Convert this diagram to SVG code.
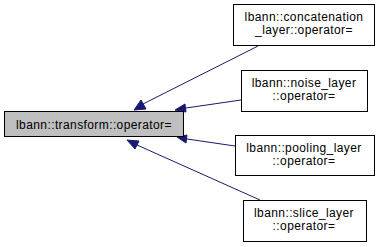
<svg xmlns="http://www.w3.org/2000/svg" width="381" height="247" viewBox="0 0 381 247">
  <style>
    .box { fill: #ffffff; stroke: #000000; stroke-width: 1; }
    .cur { fill: #bfbfbf; stroke: #000000; stroke-width: 1; }
    .lbl { font-family: "Liberation Sans", Arial, sans-serif; font-size: 12px; letter-spacing: 0.4px; fill: #000000; text-anchor: middle; }
    .edge { fill: none; stroke: #191970; stroke-width: 1; }
    .head { fill: #191970; stroke: #191970; stroke-width: 1; }
  </style>
  <rect width="381" height="247" fill="#ffffff"/>

  <g id="edges">
    <path class="edge" d="M258,46 L143,104"/>
    <polygon class="head" points="141,100 134,110 146,109"/>
    <path class="edge" d="M241,100 L186,108"/>
    <polygon class="head" points="185,104 175,110 186,112"/>
    <path class="edge" d="M235,146 L187,139"/>
    <polygon class="head" points="187,135 177,137 186,143"/>
    <path class="edge" d="M260,200 L137,145"/>
    <polygon class="head" points="139,141 127,140 135,149"/>
  </g>

  <g id="node-transform">
    <rect class="cur" x="4.5" y="111.5" width="179" height="25"/>
    <text class="lbl" x="94" y="128.5">lbann::transform::operator=</text>
  </g>

  <g id="node-concatenation">
    <rect class="box" x="233.5" y="4.5" width="141" height="41"/>
    <text class="lbl" x="304" y="21">lbann::concatenation</text>
    <text class="lbl" x="304" y="34">_layer::operator=</text>
  </g>

  <g id="node-noise">
    <rect class="box" x="241.5" y="70.5" width="126" height="41"/>
    <text class="lbl" x="304" y="87">lbann::noise_layer</text>
    <text class="lbl" x="304" y="100">::operator=</text>
  </g>

  <g id="node-pooling">
    <rect class="box" x="235.5" y="135.5" width="139" height="40"/>
    <text class="lbl" x="304" y="152">lbann::pooling_layer</text>
    <text class="lbl" x="304" y="165">::operator=</text>
  </g>

  <g id="node-slice">
    <rect class="box" x="243.5" y="200.5" width="123" height="41"/>
    <text class="lbl" x="304" y="217">lbann::slice_layer</text>
    <text class="lbl" x="304" y="230">::operator=</text>
  </g>
</svg>
